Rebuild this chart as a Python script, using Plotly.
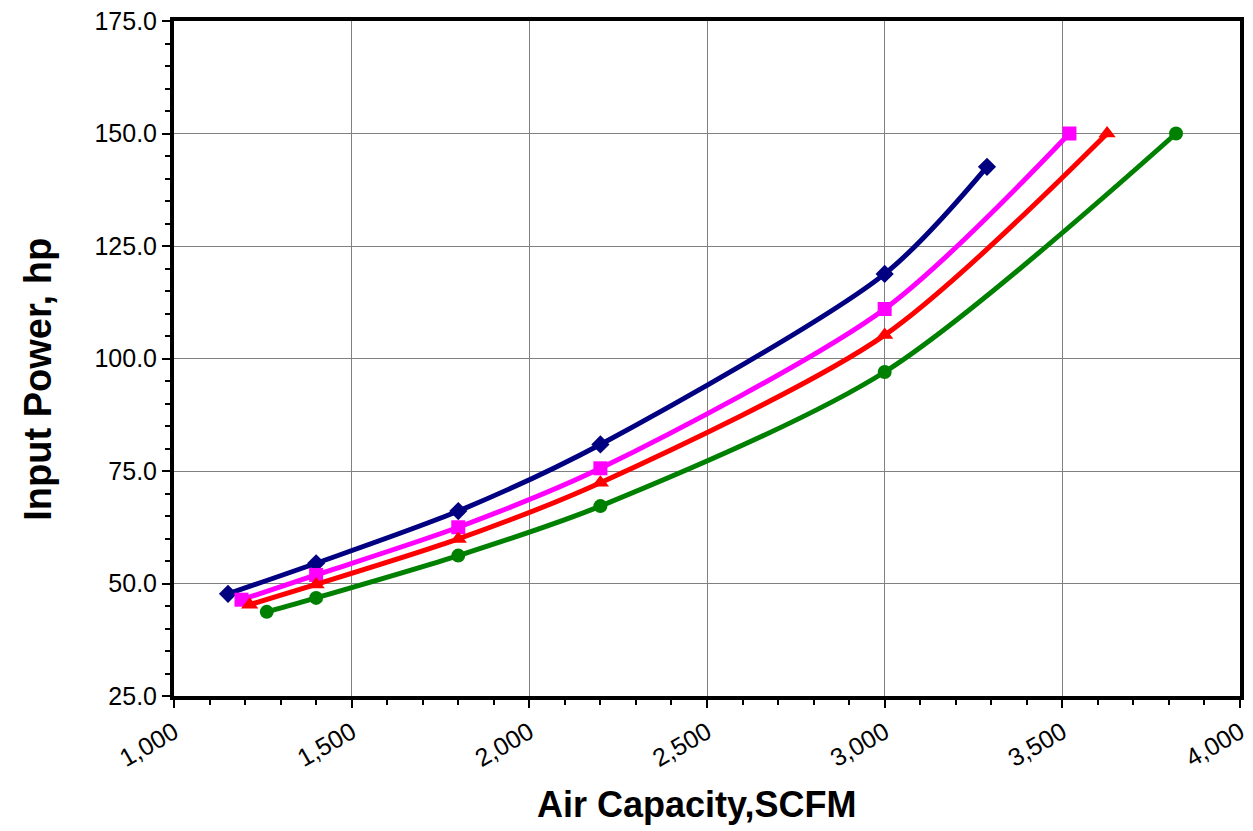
import plotly.graph_objects as go

series_names = ["Series A", "Series B", "Series C", "Series D"]
x_a = [1152, 1400, 1800, 2200, 3000, 3288]
y_a = [47.7, 54.5, 66.1, 80.9, 118.8, 142.6]
x_b = [1190, 1400, 1800, 2200, 3000, 3520]
y_b = [46.4, 51.9, 62.5, 75.6, 111.0, 150.0]
x_c = [1213, 1400, 1800, 2200, 3000, 3626]
y_c = [45.3, 49.8, 59.9, 72.4, 105.2, 150.0]
x_d = [1261, 1400, 1800, 2200, 3000, 3820]
y_d = [43.7, 46.8, 56.2, 67.2, 97.0, 150.0]

x_title = "Air Capacity,SCFM"
y_title = "Input Power, hp"

colors = ["#000080", "#FF00FF", "#FF0000", "#008000"]
symbols = ["diamond", "square", "triangle-up", "circle"]
sizes = [14, 14, 15, 14]

fig = go.Figure()
for name, xs, ys, c, s, sz in zip(series_names, [x_a, x_b, x_c, x_d], [y_a, y_b, y_c, y_d], colors, symbols, sizes):
    fig.add_trace(go.Scatter(
        x=xs, y=ys, mode="lines+markers", name=name,
        line=dict(color=c, width=5, shape="spline", smoothing=0.8),
        marker=dict(symbol=s, size=sz, color=c),
    ))

font_family = "Liberation Sans, Arial, sans-serif"
fig.update_layout(
    width=1253, height=831,
    margin=dict(l=166, r=21, t=13, b=143, autoexpand=False),
    plot_bgcolor="white", paper_bgcolor="white",
    showlegend=False,
    font=dict(family=font_family, color="black"),
)
fig.update_xaxes(
    range=[1000, 4000], dtick=500, tick0=1000, tickformat=",d",
    showgrid=True, gridcolor="#808080", gridwidth=1,
    showline=True, linecolor="black", linewidth=4, mirror=True,
    ticks="outside", ticklen=8, tickcolor="black", tickwidth=2,
    minor=dict(dtick=100, ticks="outside", ticklen=5, tickcolor="black", showgrid=False),
    tickangle=-30, tickfont=dict(size=25, family=font_family),
    ticklabeloverflow="allow",
    zeroline=False,
)
fig.update_yaxes(
    range=[25, 175], dtick=25, tick0=25, tickformat=".1f",
    showgrid=True, gridcolor="#808080", gridwidth=1,
    showline=True, linecolor="black", linewidth=4, mirror=True,
    ticks="outside", ticklen=8, tickcolor="black", tickwidth=2,
    minor=dict(dtick=5, ticks="outside", ticklen=5, tickcolor="black", showgrid=False),
    tickfont=dict(size=25, family=font_family),
    ticklabeloverflow="allow",
    zeroline=False,
)
fig.add_annotation(
    text="<b>" + x_title + "</b>", xref="paper", yref="paper",
    x=0.4897, y=-0.1605, xanchor="center", yanchor="middle", showarrow=False,
    font=dict(size=36, family=font_family, color="black"),
)
fig.add_annotation(
    text="<b>" + y_title + "</b>", xref="paper", yref="paper",
    x=-0.1276, y=0.470, xanchor="center", yanchor="middle", showarrow=False,
    textangle=-90, font=dict(size=38, family=font_family, color="black"),
)

fig.write_html("out.html")
